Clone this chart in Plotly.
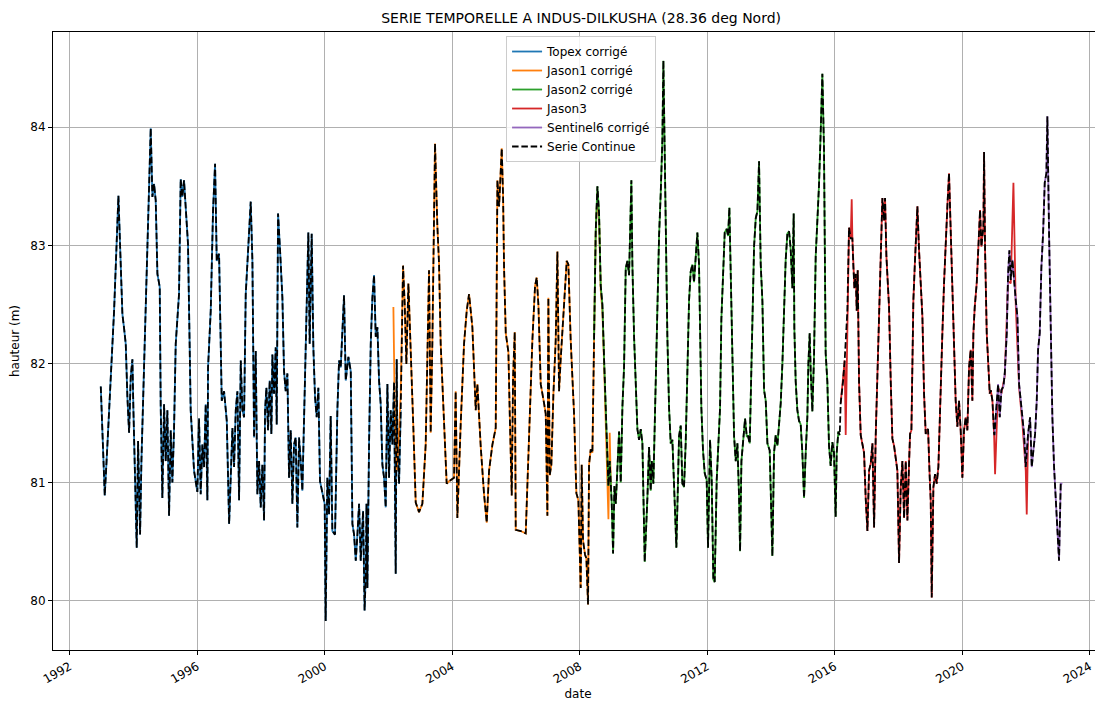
import numpy as np
import pandas as pd
import plotly.graph_objects as go

# ---------------- data (decimal years, heights in m) ----------------
topex_years = [
    1992.973, 1993.025, 1993.098, 1993.182, 1993.391, 1993.527, 1993.652, 1993.705, 1993.757, 1993.809,
    1993.862, 1993.914, 1993.966, 1993.998, 1994.050, 1994.102, 1994.144, 1994.207, 1994.249, 1994.385,
    1994.489, 1994.541, 1994.594, 1994.646, 1994.698, 1994.751, 1994.824, 1994.855, 1994.907, 1994.960,
    1995.012, 1995.064, 1995.117, 1995.169, 1995.221, 1995.273, 1995.326, 1995.430, 1995.482, 1995.535,
    1995.587, 1995.639, 1995.712, 1995.796, 1995.901, 1996.005, 1996.058, 1996.110, 1996.162, 1996.215,
    1996.267, 1996.319, 1996.340, 1996.424, 1996.497, 1996.560, 1996.612, 1996.685, 1996.769, 1996.842,
    1996.926, 1997.000, 1997.103, 1997.155, 1997.208, 1997.260, 1997.312, 1997.365, 1997.417, 1997.469,
    1997.521, 1997.574, 1997.626, 1997.678, 1997.731, 1997.783, 1997.835, 1997.887, 1997.940, 1997.992,
    1998.044, 1998.097, 1998.128, 1998.170, 1998.222, 1998.274, 1998.327, 1998.358, 1998.410, 1998.463,
    1998.494, 1998.536, 1998.599, 1998.672, 1998.724, 1998.776, 1998.829, 1998.881, 1998.933, 1998.986,
    1999.038, 1999.090, 1999.142, 1999.195, 1999.247, 1999.299, 1999.383, 1999.425, 1999.487, 1999.529,
    1999.592, 1999.644, 1999.697, 1999.749, 1999.801, 1999.853, 1999.927, 2000.000, 2000.031, 2000.083,
    2000.136, 2000.188, 2000.240, 2000.324, 2000.397, 2000.450, 2000.502, 2000.606, 2000.659, 2000.742,
    2000.816, 2000.868, 2000.920, 2000.973, 2001.025, 2001.077, 2001.129, 2001.203, 2001.250, 2001.290,
    2001.310, 2001.338, 2001.390, 2001.443, 2001.495, 2001.547, 2001.600, 2001.652, 2001.704, 2001.756,
    2001.809, 2001.861, 2001.913, 2001.966, 2002.018, 2002.070, 2002.123, 2002.175, 2002.227, 2002.258,
    2002.279, 2002.332, 2002.384,
]
topex_values = [
    81.81, 81.35, 80.89, 81.32, 82.45, 83.42, 82.42, 82.30, 82.17, 81.72,
    81.42, 81.89, 82.04, 81.61, 81.04, 80.45, 81.35, 80.56, 81.18, 82.45,
    83.30, 83.99, 83.41, 83.52, 83.38, 82.76, 82.65, 81.63, 80.87, 81.66,
    81.18, 81.61, 80.72, 81.44, 81.00, 81.44, 82.17, 82.59, 83.56, 83.41,
    83.55, 83.35, 83.01, 81.61, 81.10, 80.92, 81.54, 80.90, 81.32, 81.13,
    81.66, 80.85, 81.97, 82.45, 83.30, 83.69, 82.87, 82.93, 81.69, 81.77,
    81.52, 80.65, 81.46, 81.13, 81.61, 81.77, 80.85, 82.03, 81.61, 81.55,
    82.59, 82.85, 83.07, 83.37, 82.87, 81.38, 82.11, 80.90, 81.18, 80.79,
    81.15, 80.68, 81.61, 81.80, 81.44, 81.86, 81.41, 82.08, 81.75, 82.14,
    81.49, 83.27, 82.96, 82.56, 81.94, 81.77, 81.92, 81.04, 81.44, 80.82,
    81.32, 81.38, 80.62, 81.38, 81.18, 80.93, 81.89, 82.42, 83.11, 82.17,
    83.10, 82.14, 81.72, 81.55, 81.80, 81.01, 80.90, 80.82, 79.83, 81.04,
    80.73, 81.56, 80.59, 80.56, 81.61, 82.03, 81.97, 82.58, 81.86, 82.06,
    81.94, 80.65, 80.56, 80.34, 80.56, 80.82, 80.34, 80.76, 79.92, 80.25,
    80.82, 80.11, 81.32, 82.17, 82.56, 82.75, 82.23, 82.31, 81.86, 81.66,
    81.15, 81.04, 80.79, 81.83, 81.04, 81.61, 81.32, 81.85, 80.23, 82.04,
    81.32, 80.99, 81.61,
]

jason1_years = [
    2002.154, 2002.200, 2002.258, 2002.310, 2002.384, 2002.457, 2002.509, 2002.562, 2002.625, 2002.698,
    2002.781, 2002.855, 2002.959, 2003.064, 2003.168, 2003.273, 2003.325, 2003.377, 2003.430, 2003.461,
    2003.534, 2003.587, 2003.639, 2003.744, 2003.827, 2003.900, 2004.005, 2004.057, 2004.109, 2004.162,
    2004.266, 2004.371, 2004.455, 2004.528, 2004.632, 2004.737, 2004.789, 2004.894, 2004.998, 2005.082,
    2005.155, 2005.260, 2005.364, 2005.417, 2005.470, 2005.522, 2005.553, 2005.595, 2005.626, 2005.679,
    2005.762, 2005.804, 2005.867, 2005.909, 2005.961, 2005.992, 2006.149, 2006.306, 2006.411, 2006.515,
    2006.599, 2006.651, 2006.704, 2006.777, 2006.881, 2006.934, 2006.986, 2007.017, 2007.059, 2007.111,
    2007.174, 2007.247, 2007.300, 2007.352, 2007.404, 2007.509, 2007.593, 2007.645, 2007.718, 2007.823,
    2007.896, 2007.958, 2008.000, 2008.032, 2008.063, 2008.105, 2008.168, 2008.209, 2008.262, 2008.293,
    2008.345, 2008.398, 2008.450, 2008.502, 2008.555, 2008.607, 2008.659, 2008.711, 2008.764, 2008.820,
    2008.860, 2008.900, 2008.940, 2008.980,
]
jason1_values = [
    82.48, 81.55, 81.10, 81.30, 81.75, 82.83, 82.51, 82.00, 82.68, 82.17,
    81.46, 80.83, 80.75, 80.82, 81.32, 82.79, 81.42, 82.17, 83.01, 83.86,
    83.17, 82.85, 82.17, 81.46, 80.99, 81.01, 81.03, 81.04, 81.77, 80.70,
    81.49, 82.17, 82.45, 82.59, 82.31, 81.61, 81.83, 81.30, 80.90, 80.66,
    81.10, 81.32, 81.46, 83.55, 83.33, 83.58, 83.82, 83.42, 82.81, 82.26,
    82.10, 81.58, 80.89, 81.89, 82.27, 80.60, 80.59, 80.57, 81.40, 82.20,
    82.66, 82.73, 82.50, 81.83, 81.67, 81.58, 80.72, 82.56, 81.06, 81.15,
    81.74, 82.20, 82.95, 81.77, 82.04, 82.50, 82.87, 82.84, 82.20, 81.58,
    80.91, 80.85, 80.29, 80.11, 81.15, 80.51, 80.39, 80.36, 79.97, 81.15,
    81.28, 81.25, 82.20, 83.10, 83.45, 83.22, 82.62, 82.45, 82.00, 81.46,
    81.05, 80.69, 81.42, 80.92,
]

jason2_years = [
    2008.450, 2008.502, 2008.555, 2008.607, 2008.659, 2008.711, 2008.764, 2008.847, 2008.899, 2008.941,
    2009.004, 2009.046, 2009.088, 2009.130, 2009.182, 2009.234, 2009.287, 2009.339, 2009.391, 2009.443,
    2009.496, 2009.548, 2009.620, 2009.652, 2009.705, 2009.757, 2009.809, 2009.861, 2009.914, 2009.966,
    2010.018, 2010.039, 2010.123, 2010.175, 2010.227, 2010.259, 2010.311, 2010.353, 2010.437, 2010.489,
    2010.541, 2010.593, 2010.625, 2010.667, 2010.698, 2010.750, 2010.803, 2010.855, 2010.907, 2010.959,
    2011.033, 2011.085, 2011.116, 2011.169, 2011.221, 2011.273, 2011.325, 2011.378, 2011.430, 2011.482,
    2011.535, 2011.587, 2011.639, 2011.692, 2011.744, 2011.775, 2011.817, 2011.869, 2011.922, 2011.984,
    2012.026, 2012.089, 2012.141, 2012.193, 2012.235, 2012.298, 2012.340, 2012.403, 2012.444, 2012.497,
    2012.549, 2012.612, 2012.654, 2012.695, 2012.737, 2012.790, 2012.842, 2012.894, 2012.946, 2012.999,
    2013.030, 2013.072, 2013.135, 2013.187, 2013.239, 2013.281, 2013.333, 2013.365, 2013.417, 2013.469,
    2013.522, 2013.574, 2013.626, 2013.678, 2013.731, 2013.783, 2013.835, 2013.888, 2013.960, 2013.992,
    2014.044, 2014.096, 2014.149, 2014.201, 2014.253, 2014.306, 2014.358, 2014.410, 2014.462, 2014.515,
    2014.567, 2014.619, 2014.672, 2014.713, 2014.734, 2014.776, 2014.828, 2014.881, 2014.933, 2014.985,
    2015.038, 2015.090, 2015.142, 2015.174, 2015.215, 2015.247, 2015.299, 2015.351, 2015.404, 2015.456,
    2015.508, 2015.561, 2015.613, 2015.665, 2015.717, 2015.770, 2015.822, 2015.874, 2015.927, 2015.979,
    2016.031, 2016.063, 2016.115, 2016.157,
]
jason2_values = [
    82.20, 83.12, 83.50, 83.27, 82.66, 82.50, 82.04, 81.28, 80.97, 81.18,
    80.82, 80.40, 80.97, 80.82, 81.21, 81.43, 81.00, 81.64, 81.98, 82.81,
    82.87, 82.75, 83.55, 82.84, 82.23, 81.78, 81.45, 81.36, 81.45, 81.33,
    80.75, 80.33, 80.87, 81.30, 80.93, 81.18, 80.99, 81.48, 82.66, 83.08,
    83.44, 83.89, 84.56, 83.74, 82.99, 82.23, 81.63, 81.33, 81.36, 81.02,
    80.45, 81.02, 81.39, 81.48, 80.99, 80.96, 81.33, 81.93, 82.53, 82.78,
    82.84, 82.69, 82.90, 83.11, 82.84, 82.23, 81.63, 81.27, 81.08, 81.02,
    80.45, 81.36, 81.02, 80.18, 80.16, 81.02, 81.33, 81.63, 82.38, 82.84,
    83.11, 83.14, 83.08, 83.32, 82.84, 82.23, 81.39, 81.18, 81.33, 80.87,
    80.42, 81.18, 81.39, 81.54, 81.39, 81.39, 81.33, 81.78, 82.53, 82.99,
    83.23, 83.29, 83.71, 82.84, 82.53, 81.78, 81.69, 81.33, 81.27, 80.80,
    80.38, 81.25, 81.40, 81.31, 81.46, 81.67, 82.00, 82.45, 82.88, 83.10,
    83.12, 82.97, 82.64, 83.27, 82.30, 81.85, 81.61, 81.52, 81.49, 81.25,
    80.87, 81.25, 81.55, 82.00, 82.26, 81.94, 81.60, 82.06, 82.91, 83.21,
    83.51, 83.96, 84.45, 83.81, 82.09, 81.85, 81.31, 81.14, 81.34, 81.25,
    80.71, 81.25, 81.43, 81.40,
]

jason3_years = [
    2016.188, 2016.261, 2016.313, 2016.345, 2016.397, 2016.449, 2016.502, 2016.533, 2016.554, 2016.585,
    2016.617, 2016.658, 2016.690, 2016.721, 2016.763, 2016.815, 2016.868, 2016.920, 2016.972, 2017.025,
    2017.077, 2017.129, 2017.182, 2017.234, 2017.286, 2017.338, 2017.391, 2017.443, 2017.495, 2017.548,
    2017.579, 2017.621, 2017.673, 2017.704, 2017.757, 2017.809, 2017.861, 2017.913, 2017.966, 2018.018,
    2018.070, 2018.123, 2018.176, 2018.228, 2018.280, 2018.332, 2018.364, 2018.406, 2018.437, 2018.468,
    2018.510, 2018.542, 2018.594, 2018.646, 2018.698, 2018.751, 2018.803, 2018.855, 2018.887, 2018.929,
    2018.981, 2019.012, 2019.044, 2019.096, 2019.148, 2019.200, 2019.253, 2019.305, 2019.347, 2019.378,
    2019.430, 2019.483, 2019.535, 2019.587, 2019.640, 2019.692, 2019.744, 2019.796, 2019.849, 2019.901,
    2019.953, 2020.006, 2020.058, 2020.110, 2020.162, 2020.215, 2020.267, 2020.319, 2020.351, 2020.393,
    2020.455, 2020.508, 2020.560, 2020.602, 2020.665, 2020.685, 2020.717, 2020.769, 2020.811, 2020.863,
    2020.894, 2020.947, 2020.999, 2021.030, 2021.125, 2021.229, 2021.334, 2021.438, 2021.522, 2021.606,
    2021.679, 2021.784, 2021.888, 2021.993, 2022.024, 2022.066,
]
jason3_values = [
    81.67, 81.85, 82.03, 81.40, 82.45, 83.15, 83.06, 83.39, 83.06, 82.82,
    82.64, 82.76, 82.45, 82.79, 81.85, 81.40, 81.31, 81.25, 80.86, 80.59,
    81.10, 81.16, 81.33, 80.62, 81.40, 81.85, 82.45, 82.91, 83.40, 83.21,
    83.40, 82.91, 82.61, 82.48, 81.85, 81.37, 81.31, 81.19, 81.10, 80.32,
    80.95, 81.18, 80.70, 81.18, 80.68, 81.16, 81.41, 81.44, 81.97, 82.54,
    82.82, 83.05, 83.33, 82.96, 82.68, 82.40, 81.75, 81.41, 81.44, 81.45,
    81.04, 80.85, 80.03, 80.96, 81.07, 80.99, 81.13, 81.69, 81.92, 82.26,
    82.68, 83.10, 83.33, 83.61, 83.10, 82.54, 81.97, 81.69, 81.47, 81.69,
    81.44, 81.04, 81.44, 81.55, 81.44, 81.97, 82.12, 81.69, 82.26, 82.48,
    82.68, 83.02, 83.30, 82.99, 83.16, 83.79, 82.96, 82.26, 81.97, 81.75,
    81.78, 81.69, 81.41, 81.07, 81.80, 81.75, 81.90, 82.70, 82.68, 83.53,
    82.50, 81.80, 81.50, 81.10, 80.73, 81.40,
]

sentinel6_years = [
    2021.010, 2021.072, 2021.125, 2021.177, 2021.229, 2021.292, 2021.334, 2021.397, 2021.438, 2021.480,
    2021.522, 2021.574, 2021.627, 2021.679, 2021.731, 2021.784, 2021.836, 2021.888, 2021.940, 2021.993,
    2022.066, 2022.129, 2022.181, 2022.233, 2022.286, 2022.338, 2022.380, 2022.432, 2022.484, 2022.537,
    2022.589, 2022.641, 2022.672, 2022.725, 2022.777, 2022.829, 2022.882, 2022.934, 2022.986, 2023.038,
    2023.091, 2023.143,
]
sentinel6_values = [
    81.40, 81.64, 81.83, 81.55, 81.78, 81.81, 81.92, 82.26, 82.76, 82.96,
    82.71, 82.88, 82.68, 82.54, 82.40, 81.83, 81.69, 81.55, 81.41, 81.13,
    81.41, 81.55, 81.13, 81.27, 81.41, 81.69, 82.12, 82.26, 82.82, 83.10,
    83.53, 83.61, 84.09, 83.10, 82.26, 81.55, 81.13, 80.87, 80.71, 80.34,
    80.99, 80.99,
]

# mission hand-over dates used for the continuous series, and points left out of it
switch_years = [2002.42, 2008.42, 2016.17, 2021.005]
continuous_excluded = [2016.345, 2016.533]

missions = [
    ("Topex corrigé", topex_years, topex_values, "#1f77b4"),
    ("Jason1 corrigé", jason1_years, jason1_values, "#ff7f0e"),
    ("Jason2 corrigé", jason2_years, jason2_values, "#2ca02c"),
    ("Jason3", jason3_years, jason3_values, "#d62728"),
    ("Sentinel6 corrigé", sentinel6_years, sentinel6_values, "#9467bd"),
]


def to_dates(years):
    out = []
    for y in years:
        yi = int(np.floor(y))
        start = pd.Timestamp(yi, 1, 1)
        end = pd.Timestamp(yi + 1, 1, 1)
        out.append(start + (end - start) * (y - yi))
    return out


# continuous series: each mission between its hand-over dates
bounds = [-np.inf] + switch_years + [np.inf]
cont_years, cont_values = [], []
for i, (_, yrs, vals, _) in enumerate(missions):
    for y, v in zip(yrs, vals):
        if bounds[i] <= y < bounds[i + 1] and y not in continuous_excluded:
            cont_years.append(y)
            cont_values.append(v)

fig = go.Figure()
for name, yrs, vals, col in missions:
    fig.add_trace(go.Scatter(x=to_dates(yrs), y=vals, mode="lines", name=name,
                             line=dict(color=col, width=1.8)))
fig.add_trace(go.Scatter(x=to_dates(cont_years), y=cont_values, mode="lines", name="Serie Continue",
                         line=dict(color="black", width=1.8, dash="6.5px,2.8px")))

tick_years = [1992, 1996, 2000, 2004, 2008, 2012, 2016, 2020, 2024]
x_range = to_dates([1991.476, 2024.417])

# the page adds an 8 px body margin, so the figure is laid out 8 px up/left
fig.update_layout(
    width=1103, height=704,
    margin=dict(l=45, r=8, t=24, b=62),
    paper_bgcolor="white", plot_bgcolor="white",
    font=dict(family="DejaVu Sans", size=12, color="black"),
    title=dict(text="SERIE TEMPORELLE A INDUS-DILKUSHA (28.36 deg Nord)",
               x=0.503, xref="paper", xanchor="center",
               y=1 - 10 / 704, yref="container", yanchor="middle",
               font=dict(size=14, color="black")),
    legend=dict(x=0.4315, y=0.9935, xanchor="left", yanchor="top",
                bgcolor="rgba(255,255,255,0.85)", bordercolor="#cccccc", borderwidth=1,
                font=dict(size=12), itemwidth=30, tracegroupgap=0),
    showlegend=True,
)
fig.update_xaxes(
    type="date", range=x_range,
    tickvals=to_dates(tick_years), ticktext=[str(t) for t in tick_years],
    tickangle=-30, ticks="outside", ticklen=4, tickcolor="black",
    showgrid=True, gridcolor="#b0b0b0", gridwidth=1,
    showline=True, linecolor="black", linewidth=1, mirror=True,
    zeroline=False,
    title=dict(text="date", standoff=4, font=dict(size=12)),
    automargin=False,
)
fig.update_yaxes(
    range=[79.586, 84.802],
    tickvals=[80, 81, 82, 83, 84],
    ticks="outside", ticklen=4, tickcolor="black",
    showgrid=True, gridcolor="#b0b0b0", gridwidth=1,
    showline=True, linecolor="black", linewidth=1, mirror=False,
    zeroline=False,
    title=dict(text="hauteur (m)", standoff=8, font=dict(size=12)),
    automargin=False,
)

fig.write_html("out.html")
